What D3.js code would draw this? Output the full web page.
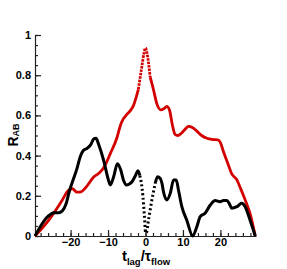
<!DOCTYPE html>
<html>
<head>
<meta charset="utf-8">
<script src="https://cdn.jsdelivr.net/npm/d3@7"></script>
<style>
  body { margin: 0; background: #fff; }
  svg { display: block; font-family: "Liberation Sans", Arial, sans-serif; }
  .tick text { font-weight: bold; font-size: 11px; fill: #000; }
</style>
</head>
<body>
<svg id="graph" width="287" height="269"></svg>
<script>
  // correlation R_AB against lag t_lag / tau_flow
  const redLag = [-29.5, -27.5, -25, -22.5, -20.5, -19.5, -18.3, -17.2, -16, -14, -12, -11, -9.4, -7.6, -6.7, -6, -5.2, -4, -3.2, -2.5,
    -1.9, -1, -0.4, 0, 0.4, 1.25, 2.1, 3, 4.1, 5, 5.7, 6.4, 7.2, 7.9, 8.6, 9.5, 10.5, 11.5, 12.5, 13.7,
    15, 16.4, 18, 19.3, 20, 20.8, 22, 23, 24.4, 25.3, 26.1, 27, 27.9, 29.3];
  const redR = [0, 0.04, 0.1, 0.17, 0.228, 0.235, 0.218, 0.22, 0.24, 0.29, 0.32, 0.345, 0.41, 0.49, 0.55, 0.58, 0.6, 0.625, 0.65, 0.69,
    0.73, 0.84, 0.91, 0.935, 0.91, 0.79, 0.73, 0.66, 0.627, 0.635, 0.645, 0.627, 0.55, 0.505, 0.5, 0.51, 0.53, 0.545, 0.54, 0.522,
    0.5, 0.486, 0.48, 0.478, 0.465, 0.42, 0.36, 0.31, 0.279, 0.24, 0.204, 0.16, 0.113, 0];

  const blackLag = [-29.5, -28.1, -26.3, -25.3, -24.5, -23.2, -22.2, -21.2, -20.3, -19.4, -18.3, -17.4, -16.6, -15.6, -14.6, -13.8, -13.2, -12.5, -11.2, -9.9,
    -9.4, -8.5, -7.5, -6.6, -5.9, -5, -4.2, -3.6, -2.7, -2, -1.5, -0.7, -0.3, 0, 0.2, 0.8, 1.7, 2.6, 3.2, 3.9,
    4.4, 4.8, 5.7, 6.6, 7.5, 8.2, 8.8, 9.7, 11, 12.6, 13.7, 14.6, 15.9, 17.3, 18.6, 19.9, 20.8, 21.7, 22.4, 23,
    24.4, 25.7, 26.6, 27.9, 29.3];
  const blackR = [0, 0.046, 0.093, 0.108, 0.116, 0.116, 0.125, 0.16, 0.225, 0.275, 0.335, 0.395, 0.425, 0.436, 0.455, 0.483, 0.486, 0.455, 0.378, 0.279,
    0.254, 0.295, 0.36, 0.328, 0.279, 0.254, 0.26, 0.27, 0.3, 0.325, 0.3, 0.2, 0.1, 0.02, 0.015, 0.08, 0.179, 0.262, 0.295, 0.287,
    0.262, 0.22, 0.179, 0.212, 0.279, 0.279, 0.229, 0.146, 0.08, 0, 0.046, 0.096, 0.113, 0.154, 0.176, 0.171, 0.176, 0.176, 0.16, 0.138,
    0.146, 0.163, 0.146, 0.08, 0];

  const xTicks = [-20, -10, 0, 10, 20];
  const yTicks = [0, 0.2, 0.4, 0.6, 0.8, 1];
  const yTickLabels = ['0', '0.2', '0.4', '0.6', '0.8', '1'];

  const graph = d3.select('#graph');
  const x = d3.scaleLinear().domain([-29.5, 29.5]).range([35, 256]);
  const y = d3.scaleLinear().domain([0, 1]).range([236, 35]);

  // minor ticks first, majors on top
  graph.append('g')
    .attr('transform', 'translate(0,236)')
    .call(d3.axisBottom(x).tickValues(d3.range(-28, 29, 2)).tickSize(-3).tickSizeOuter(0).tickFormat(''))
    .call(g => g.select('.domain').remove());
  graph.append('g')
    .attr('transform', 'translate(35,0)')
    .call(d3.axisLeft(y).tickValues(d3.range(0, 1.001, 0.05)).tickSize(-3).tickSizeOuter(0).tickFormat(''))
    .call(g => g.select('.domain').remove());

  graph.append('g')
    .attr('transform', 'translate(0,236)')
    .call(d3.axisBottom(x).tickValues(xTicks).tickSize(-6).tickSizeOuter(0).tickPadding(2));
  graph.append('g')
    .attr('transform', 'translate(35,0)')
    .call(d3.axisLeft(y).tickValues(yTicks).tickSize(-6).tickSizeOuter(0).tickPadding(4)
      .tickFormat((d, i) => yTickLabels[i]));

  graph.selectAll('.domain, .tick line').attr('stroke', '#222').attr('stroke-width', 1.2);

  const line = d3.line()
    .x(d => x(d[0]))
    .y(d => y(d[1]))
    .curve(d3.curveMonotoneX);

  const red = d3.zip(redLag, redR);
  const black = d3.zip(blackLag, blackR);

  function drawPart(pts, lo, hi, color, dash, w) {
    graph.append('path')
      .attr('d', line(pts.filter(p => p[0] >= lo && p[0] <= hi)))
      .attr('fill', 'none')
      .attr('stroke', color)
      .attr('stroke-width', w)
      .attr('stroke-linejoin', 'round')
      .attr('stroke-dasharray', dash);
  }

  drawPart(red, -30, -1.9, '#d20000', null, 2.8);
  drawPart(red, -1.9, 1.25, '#d20000', '2.5 1', 2.8);
  drawPart(red, 1.25, 30, '#d20000', null, 2.8);

  drawPart(black, -30, -1.5, '#000', null, 3);
  drawPart(black, -1.5, 2.6, '#000', '2 2.5', 3);
  drawPart(black, 2.6, 30, '#000', null, 3);

  // axis titles
  const xt = graph.append('text')
    .attr('x', 146)
    .attr('y', 261)
    .attr('text-anchor', 'middle')
    .attr('font-weight', 'bold');
  xt.append('tspan').attr('font-size', 15).text('t');
  xt.append('tspan').attr('font-size', 9.5).attr('dy', 4).text('lag');
  xt.append('tspan').attr('font-size', 15).attr('dy', -4).text('/');
  xt.append('tspan').attr('font-size', 14).text('τ');
  xt.append('tspan').attr('font-size', 9.5).attr('dy', 4).text('flow');

  const yt = graph.append('text')
    .attr('transform', 'translate(18,135) rotate(-90)')
    .attr('text-anchor', 'middle')
    .attr('font-weight', 'bold');
  yt.append('tspan').attr('font-size', 14).text('R');
  yt.append('tspan').attr('font-size', 9).attr('dy', 1).text('AB');
</script>
</body>
</html>
